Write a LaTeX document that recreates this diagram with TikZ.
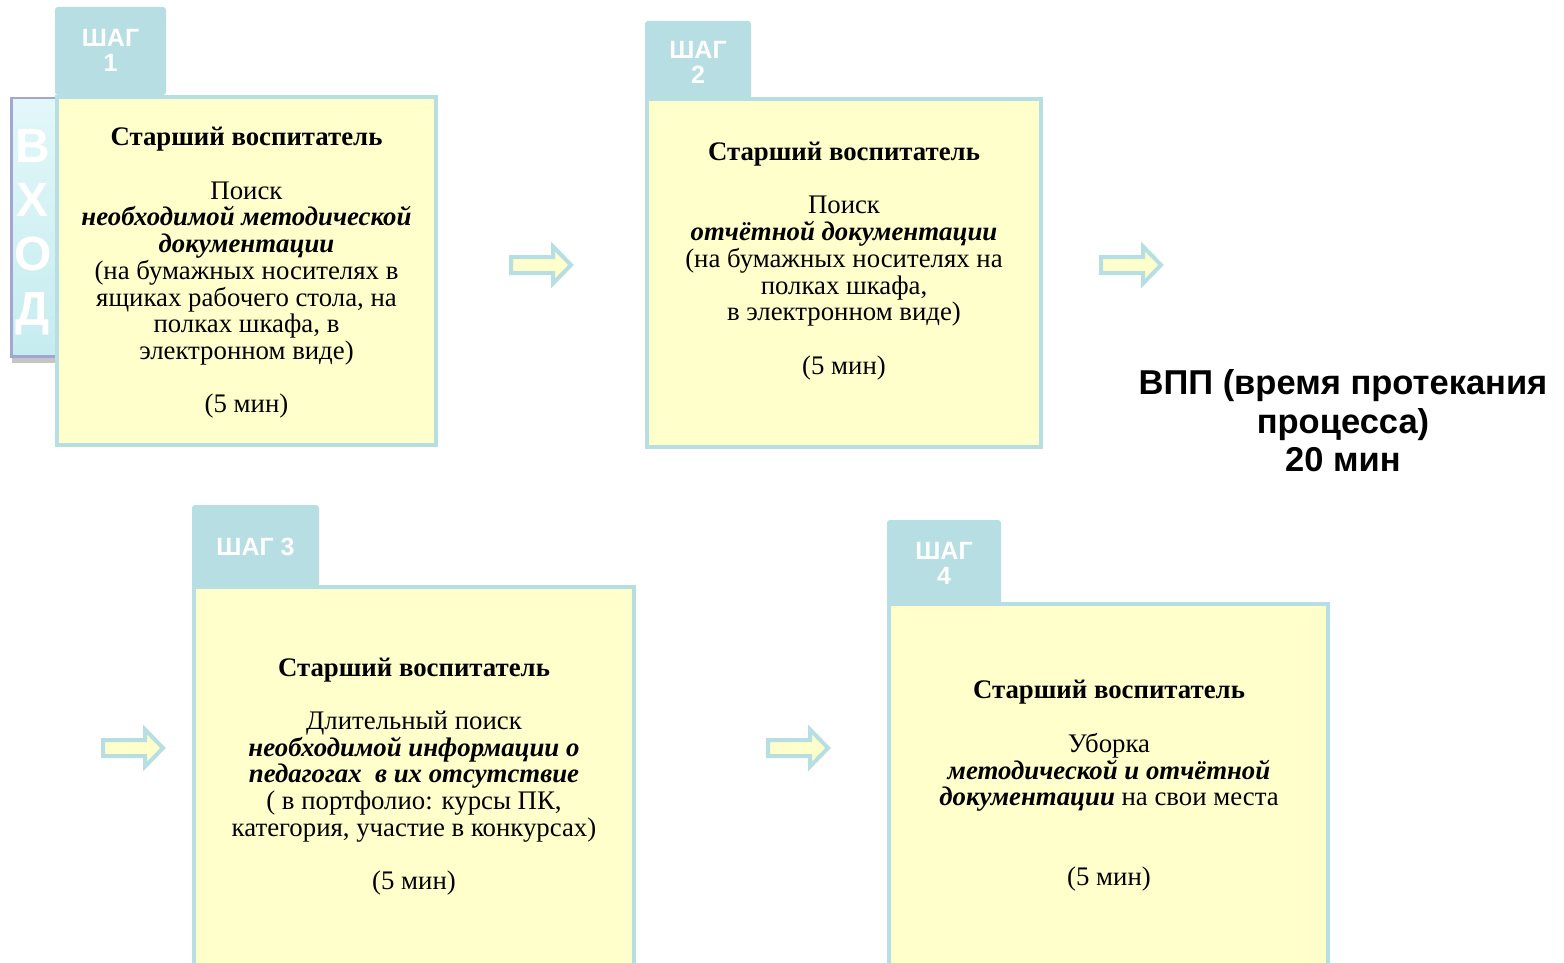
\documentclass[tikz,border=0pt]{standalone}
\usepackage{fontspec}
\setmainfont{Liberation Serif}
\setsansfont{Liberation Sans}
\usetikzlibrary{shadows}
\definecolor{tabblue}{HTML}{B7DEE2}
\definecolor{boxyellow}{HTML}{FFFFCC}
\definecolor{barrim}{HTML}{A3A6D2}
\definecolor{barin}{HTML}{C6ECEF}
\definecolor{bartop}{HTML}{E2F7F9}
\tikzset{
  tabbox/.style={fill=tabblue, draw=none, rounded corners=3pt},
  mainbox/.style={fill=boxyellow, draw=tabblue, line width=4pt},
  tabtext/.style={text=white, font=\sffamily\bfseries\fontsize{25}{25}\selectfont, align=center, inner sep=0pt},
  boxtext/.style={font=\fontsize{26.8}{26.7}\selectfont, align=center, inner sep=0pt},
  blockarrow/.style={fill=boxyellow, draw=tabblue, line width=4pt, line join=miter},
  barrow/.pic={\draw[blockarrow] (0,-8) -- (42,-8) -- (42,-18.5) -- (60,0) -- (42,18.5) -- (42,8) -- (0,8) -- cycle;},
  vhodbar/.style={rectangle, minimum width=45pt, minimum height=261pt, inner sep=0pt, fill=barrim,
    drop shadow={shadow xshift=2pt, shadow yshift=-5pt, fill=black!45, opacity=0.5}},
  vhodtext/.style={text=white, font=\sffamily\bfseries\fontsize{48}{54.3}\selectfont, align=center, inner sep=0pt},
  vpptext/.style={font=\sffamily\bfseries\fontsize{34.5}{38.5}\selectfont, align=center, inner sep=0pt},
}
\begin{document}
\begin{tikzpicture}[x=1pt, y=-1pt]
\useasboundingbox[fill=white] (0,0) rectangle (1564,963);

% ВХОД bar
\node[vhodbar] (vhod) at (32.5,227.5) {};
\shade[top color=bartop, bottom color=barin] (13,100) rectangle (55,354);
\node[vhodtext] (vhodt) at (33,232) {В\\Х\\О\\Д};

% Step 1
\draw[tabbox] (55,95) -- (55,7) -- (166,7) -- (166,95) -- cycle;
\node[tabtext] (t1) at (110.5,50) {ШАГ\\1};
\draw[mainbox] (57,97) rectangle (436,445);
\node[boxtext] (s1) at (246.5,273) {\textbf{Старший воспитатель}\\[26.7pt]
Поиск\\
\textbf{\textit{необходимой методической}}\\
\textbf{\textit{документации}}\\
(на бумажных носителях в\\
ящиках рабочего стола, на\\
полках шкафа, в\\
электронном виде)\\[26.7pt]
(5 мин)};

% Step 2
\draw[tabbox] (645,100) -- (645,21) -- (751,21) -- (751,100) -- cycle;
\node[tabtext] (t2) at (698,62) {ШАГ\\2};
\draw[mainbox] (647,99) rectangle (1041,447);
\node[boxtext] (s2) at (844,261) {\textbf{Старший воспитатель}\\[26.7pt]
Поиск\\
\textbf{\textit{отчётной документации}}\\
(на бумажных носителях на\\
полках шкафа,\\
в электронном виде)\\[26.7pt]
(5 мин)};

% Step 3
\draw[tabbox] (192,590) -- (192,505) -- (319,505) -- (319,590) -- cycle;
\node[tabtext] (t3) at (255.5,547) {ШАГ 3};
\draw[mainbox] (194,587) rectangle (634,985);
\node[boxtext] (s3) at (414,776.5) {\textbf{Старший воспитатель}\\[26.7pt]
Длительный поиск\\
\textbf{\textit{необходимой информации о}}\\
\textbf{\textit{педагогах \ в их отсутствие}}\\
( в портфолио: курсы ПК,\\
категория, участие в конкурсах)\\[26.7pt]
(5 мин)};

% Step 4
\draw[tabbox] (887,605) -- (887,520) -- (1001,520) -- (1001,605) -- cycle;
\node[tabtext] (t4) at (944,563) {ШАГ\\4};
\draw[mainbox] (889,604) rectangle (1328,985);
\node[boxtext] (s4) at (1109,786) {\textbf{Старший воспитатель}\\[26.7pt]
Уборка\\
\textbf{\textit{методической и отчётной}}\\
\textbf{\textit{документации}} на свои места\\[53.4pt]
(5 мин)};

% Block arrows
\pic (a1) at (511,265) {barrow};
\pic (a2) at (1101,265) {barrow};
\pic (a3) at (103,748) {barrow};
\pic (a4) at (768,748) {barrow};

% ВПП
\node[vpptext] (vpp) at (1343,421) {ВПП (время протекания\\процесса)\\20 мин};
\end{tikzpicture}
\end{document}
